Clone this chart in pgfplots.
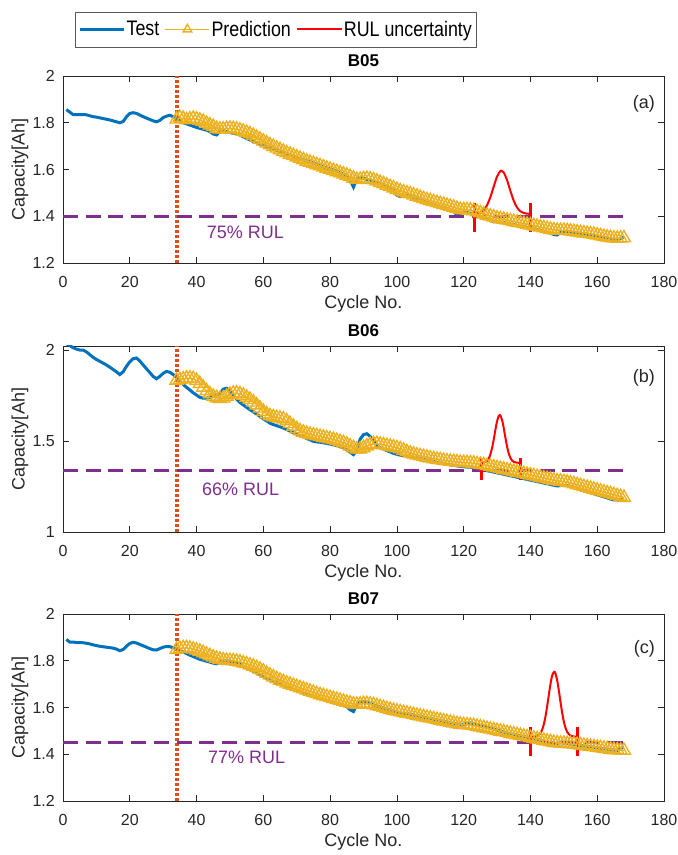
\documentclass[border=0pt]{standalone}
\usepackage{pgfplots}
\pgfplotsset{compat=1.18}
\usepackage{fontspec}
\setmainfont{Liberation Sans}
\newfontfamily\legendfont[FakeStretch=0.85]{Liberation Sans}

\definecolor{testblue}{rgb}{0,0.447,0.741}
\definecolor{predorange}{rgb}{0.929,0.694,0.125}
\definecolor{startline}{rgb}{0.85,0.325,0.098}
\definecolor{eolpurple}{rgb}{0.494,0.184,0.556}
\definecolor{uncred}{rgb}{1,0,0}
\definecolor{axisgray}{rgb}{0.15,0.15,0.15}
\definecolor{legendgray}{rgb}{0.35,0.35,0.35}

\tikzset{
  tag/.style={font=\fontsize{18}{21}\selectfont, text=axisgray},
  rultext/.style={font=\fontsize{18}{21}\selectfont, text=eolpurple},
}

\pgfplotsset{
  panel/.style={
    scale only axis, width=601pt,
    xmin=0, xmax=180, xtick={0,20,...,180},
    tick align=inside, major tick length=6pt,
    axis line style={draw=axisgray, line width=0.6pt},
    every tick/.style={draw=axisgray, line width=0.6pt},
    tick label style={font=\fontsize{16}{18}\selectfont, text=axisgray, inner sep=0pt},
    xticklabel style={anchor=base, yshift=-25pt},
    yticklabel style={anchor=east, xshift=-8pt},
    label style={font=\fontsize{18}{21}\selectfont, text=axisgray},
    xlabel={Cycle No.}, ylabel={Capacity[Ah]},
    xlabel style={at={([yshift=-41pt]axis description cs:0.5,0)}, anchor=center},
    ylabel style={at={([xshift=-43pt]axis description cs:0,0.5)}, anchor=center},
    title style={at={([yshift=3pt]axis description cs:0.5,1)}, anchor=base,
      font=\bfseries\fontsize{17}{20}\selectfont},
    /pgf/number format/assume math mode=true,
    clip=true,
  },
  testline/.style={testblue, line width=3pt, no markers},
  predline/.style={draw=predorange, line width=1.2pt, mark=triangle,
    mark size=7.5pt, mark options={solid, fill=none, draw=predorange, line width=1.4pt}},
  startmark/.style={startline, line width=4pt, dash pattern=on 3.3pt off 1.7pt},
  eolline/.style={eolpurple, line width=3pt, dash pattern=on 15pt off 7.7pt},
  rulpdf/.style={uncred, line width=2pt, smooth, no markers},
  rulbar/.style={uncred, line width=3pt, no markers},
}

\begin{document}
\begin{tikzpicture}
\useasboundingbox (0,0) rectangle (678pt,855pt);

% ---------------- B05 ----------------
\begin{axis}[panel, at={(63pt,779pt)}, anchor=north west, height=187pt,
  ymin=1.2, ymax=2, ytick={1.2,1.4,...,2.01},
  yticklabels={1.2,1.4,1.6,1.8,2},
  title={B05},
  legend style={at={([yshift=29pt]axis description cs:0.354,1)}, anchor=south,
    legend columns=3, draw=legendgray, fill=white,
    font=\legendfont\fontsize{21}{24}\selectfont, inner xsep=3pt, inner ysep=7.5pt,
    nodes={inner sep=1.5pt},
    /tikz/every even column/.append style={column sep=4pt}},
  legend cell align=left,
  legend image code/.code={\draw[mark repeat=2,mark phase=2,#1,mark size=5pt]
    plot coordinates {(0pt,0pt) (22pt,0pt) (44pt,0pt)};},
]
\addplot[testline] coordinates {
(1,1.856)(2,1.846)(3,1.835)(4,1.835)(5,1.835)(6,1.835)(7,1.834)(8,1.830)(9,1.826)(10,1.824)
(11,1.821)(12,1.818)(13,1.815)(14,1.812)(15,1.808)(16,1.804)(17,1.800)(18,1.805)(19,1.825)(20,1.840)
(21,1.843)(22,1.840)(23,1.833)(24,1.826)(25,1.820)(26,1.814)(27,1.808)(28,1.804)(29,1.810)(30,1.822)
(31,1.828)(32,1.832)(33,1.826)(34,1.818)(35,1.810)(36,1.800)(37,1.795)(38,1.790)(39,1.785)(40,1.780)
(41,1.776)(42,1.772)(43,1.768)(44,1.762)(45,1.752)(46,1.748)(47,1.762)(48,1.765)(49,1.762)(50,1.758)
(51,1.755)(52,1.752)(53,1.747)(54,1.740)(55,1.733)(56,1.726)(57,1.720)(58,1.714)(59,1.708)(60,1.702)
(61,1.697)(62,1.692)(63,1.687)(64,1.682)(65,1.677)(66,1.672)(67,1.667)(68,1.662)(69,1.657)(70,1.652)
(71,1.647)(72,1.642)(73,1.637)(74,1.632)(75,1.627)(76,1.622)(77,1.617)(78,1.612)(79,1.607)(80,1.602)
(81,1.597)(82,1.592)(83,1.587)(84,1.581)(85,1.575)(86,1.555)(87,1.525)(88,1.560)(89,1.565)(90,1.562)
(91,1.558)(92,1.554)(93,1.550)(94,1.545)(95,1.540)(96,1.533)(97,1.526)(98,1.519)(99,1.512)(100,1.490)
(101,1.484)(102,1.490)(103,1.488)(104,1.484)(105,1.479)(106,1.474)(107,1.469)(108,1.464)(109,1.459)(110,1.454)
(111,1.449)(112,1.445)(113,1.441)(114,1.437)(115,1.433)(116,1.428)(117,1.420)(118,1.405)(119,1.412)(120,1.418)
(121,1.416)(122,1.413)(123,1.409)(124,1.404)(125,1.399)(126,1.394)(127,1.389)(128,1.383)(129,1.377)(130,1.376)
(131,1.375)(132,1.373)(133,1.370)(134,1.367)(135,1.364)(136,1.361)(137,1.358)(138,1.355)(139,1.352)(140,1.349)
(141,1.346)(142,1.343)(143,1.340)(144,1.336)(145,1.332)(146,1.327)(147,1.322)(148,1.320)(149,1.330)(150,1.336)
(151,1.335)(152,1.333)(153,1.331)(154,1.329)(155,1.327)(156,1.325)(157,1.323)(158,1.321)(159,1.318)(160,1.315)
(161,1.312)(162,1.309)(163,1.306)(164,1.303)(165,1.300)(166,1.297)(167,1.305)(168,1.310)
};
\addlegendentry{Test}
\addplot[predline] coordinates {
(34,1.815)(35,1.822)(36,1.818)(37,1.812)(38,1.815)(39,1.818)(40,1.815)(41,1.810)(42,1.805)(43,1.797)
(44,1.790)(45,1.783)(46,1.775)(47,1.772)(48,1.772)(49,1.775)(50,1.776)(51,1.774)(52,1.772)(53,1.768)
(54,1.763)(55,1.758)(56,1.752)(57,1.745)(58,1.737)(59,1.729)(60,1.721)(61,1.713)(62,1.705)(63,1.698)
(64,1.691)(65,1.684)(66,1.677)(67,1.671)(68,1.665)(69,1.659)(70,1.653)(71,1.647)(72,1.641)(73,1.635)
(74,1.630)(75,1.625)(76,1.620)(77,1.615)(78,1.610)(79,1.605)(80,1.600)(81,1.595)(82,1.590)(83,1.585)
(84,1.580)(85,1.575)(86,1.569)(87,1.562)(88,1.556)(89,1.557)(90,1.560)(91,1.561)(92,1.559)(93,1.555)
(94,1.550)(95,1.544)(96,1.538)(97,1.532)(98,1.526)(99,1.520)(100,1.514)(101,1.508)(102,1.503)(103,1.499)
(104,1.495)(105,1.490)(106,1.485)(107,1.480)(108,1.475)(109,1.470)(110,1.466)(111,1.462)(112,1.458)(113,1.454)
(114,1.450)(115,1.446)(116,1.442)(117,1.438)(118,1.433)(119,1.429)(120,1.427)(121,1.427)(122,1.426)(123,1.423)
(124,1.419)(125,1.414)(126,1.409)(127,1.404)(128,1.400)(129,1.396)(130,1.392)(131,1.389)(132,1.386)(133,1.383)
(134,1.380)(135,1.377)(136,1.374)(137,1.371)(138,1.368)(139,1.365)(140,1.362)(141,1.359)(142,1.356)(143,1.353)
(144,1.350)(145,1.347)(146,1.344)(147,1.341)(148,1.339)(149,1.339)(150,1.339)(151,1.338)(152,1.336)(153,1.334)
(154,1.332)(155,1.330)(156,1.328)(157,1.326)(158,1.324)(159,1.322)(160,1.319)(161,1.316)(162,1.313)(163,1.310)
(164,1.308)(165,1.306)(166,1.305)(167,1.306)(168,1.307)
};
\addlegendentry{Prediction}
\addplot[startmark, forget plot] coordinates {(34,1.2)(34,2)};
\addplot[eolline, forget plot] coordinates {(0,1.4)(168,1.4)};
\addplot[rulpdf] coordinates {
(123,1.4105)(124,1.4118)(125,1.4159)(126,1.4262)(127,1.4472)(128,1.4819)(129,1.5269)(130,1.5698)
(131,1.5936)(131.3,1.595)(132,1.5873)(133,1.5540)(134,1.5083)(135,1.4664)(136,1.4372)(137,1.4210)
(138,1.4138)(139,1.4111)(140,1.4103)
};
\addlegendentry{RUL uncertainty}
\addplot[rulbar, forget plot] coordinates {(123.1,1.333)(123.1,1.457)};
\addplot[rulbar, forget plot] coordinates {(140.1,1.333)(140.1,1.457)};
\node[rultext] at (axis cs:54.6,1.33) {75\% RUL};
\node[tag, anchor=east] at (axis cs:178.3,1.88) {(a)};
\end{axis}

% ---------------- B06 ----------------
\begin{axis}[panel, at={(63pt,509pt)}, anchor=north west, height=186pt,
  ymin=1, ymax=2.022, ytick={1,1.5,2}, yticklabels={1,1.5,2},
  title={B06},
]
\addplot[testline] coordinates {
(1,2.035)(2,2.025)(3,2.013)(4,2.005)(5,2.000)(6,2.000)(7,1.990)(8,1.975)(9,1.960)(10,1.948)
(11,1.938)(12,1.928)(13,1.918)(14,1.906)(15,1.893)(16,1.880)(17,1.865)(18,1.880)(19,1.910)(20,1.935)
(21,1.952)(22,1.956)(23,1.940)(24,1.918)(25,1.897)(26,1.876)(27,1.855)(28,1.842)(29,1.855)(30,1.872)
(31,1.882)(32,1.878)(33,1.865)(34,1.850)(35,1.830)(36,1.810)(37,1.795)(38,1.780)(39,1.765)(40,1.752)
(41,1.740)(42,1.735)(43,1.735)(44,1.740)(45,1.745)(46,1.750)(47,1.760)(48,1.785)(49,1.790)(50,1.775)
(51,1.755)(52,1.730)(53,1.712)(54,1.698)(55,1.685)(56,1.672)(57,1.660)(58,1.648)(59,1.635)(60,1.622)
(61,1.610)(62,1.598)(63,1.590)(64,1.584)(65,1.578)(66,1.571)(67,1.563)(68,1.554)(69,1.545)(70,1.537)
(71,1.530)(72,1.522)(73,1.514)(74,1.506)(75,1.498)(76,1.495)(77,1.493)(78,1.490)(79,1.487)(80,1.483)
(81,1.479)(82,1.475)(83,1.470)(84,1.462)(85,1.452)(86,1.438)(87,1.425)(88,1.450)(89,1.510)(90,1.535)
(91,1.540)(92,1.525)(93,1.500)(94,1.478)(95,1.462)(96,1.455)(97,1.447)(98,1.440)(99,1.432)(100,1.427)
(101,1.422)(102,1.420)(103,1.418)(104,1.415)(105,1.411)(106,1.407)(107,1.403)(108,1.399)(109,1.395)(110,1.391)
(111,1.387)(112,1.383)(113,1.379)(114,1.375)(115,1.372)(116,1.369)(117,1.366)(118,1.363)(119,1.361)(120,1.359)
(121,1.357)(122,1.356)(123,1.353)(124,1.349)(125,1.345)(126,1.341)(127,1.337)(128,1.333)(129,1.329)(130,1.325)
(131,1.321)(132,1.317)(133,1.313)(134,1.309)(135,1.305)(136,1.301)(137,1.297)(138,1.293)(139,1.289)(140,1.285)
(141,1.281)(142,1.277)(143,1.273)(144,1.269)(145,1.265)(146,1.261)(147,1.257)(148,1.253)(149,1.255)(150,1.257)
(151,1.255)(152,1.251)(153,1.246)(154,1.241)(155,1.235)(156,1.229)(157,1.223)(158,1.217)(159,1.211)(160,1.205)
(161,1.199)(162,1.193)(163,1.187)(164,1.181)(165,1.176)(166,1.176)(167,1.179)(168,1.181)
};
\addplot[predline] coordinates {
(34,1.833)(35,1.835)(36,1.840)(37,1.845)(38,1.845)(39,1.842)(40,1.832)(41,1.815)(42,1.795)(43,1.775)
(44,1.758)(45,1.745)(46,1.737)(47,1.733)(48,1.735)(49,1.745)(50,1.755)(51,1.762)(52,1.763)(53,1.758)
(54,1.750)(55,1.740)(56,1.728)(57,1.713)(58,1.697)(59,1.680)(60,1.662)(61,1.648)(62,1.638)(63,1.632)
(64,1.628)(65,1.625)(66,1.620)(67,1.610)(68,1.595)(69,1.580)(70,1.566)(71,1.555)(72,1.547)(73,1.541)
(74,1.536)(75,1.532)(76,1.528)(77,1.524)(78,1.520)(79,1.516)(80,1.512)(81,1.507)(82,1.502)(83,1.496)
(84,1.490)(85,1.482)(86,1.472)(87,1.462)(88,1.455)(89,1.455)(90,1.462)(91,1.472)(92,1.480)(93,1.484)
(94,1.485)(95,1.482)(96,1.478)(97,1.474)(98,1.470)(99,1.466)(100,1.462)(101,1.456)(102,1.448)(103,1.440)
(104,1.433)(105,1.427)(106,1.422)(107,1.418)(108,1.414)(109,1.410)(110,1.406)(111,1.402)(112,1.399)(113,1.396)
(114,1.393)(115,1.390)(116,1.388)(117,1.386)(118,1.384)(119,1.382)(120,1.381)(121,1.380)(122,1.379)(123,1.377)
(124,1.374)(125,1.371)(126,1.368)(127,1.364)(128,1.360)(129,1.356)(130,1.352)(131,1.348)(132,1.344)(133,1.340)
(134,1.336)(135,1.332)(136,1.328)(137,1.324)(138,1.320)(139,1.316)(140,1.312)(141,1.308)(142,1.304)(143,1.300)
(144,1.296)(145,1.292)(146,1.288)(147,1.284)(148,1.280)(149,1.278)(150,1.276)(151,1.273)(152,1.269)(153,1.264)
(154,1.259)(155,1.254)(156,1.249)(157,1.244)(158,1.239)(159,1.234)(160,1.229)(161,1.224)(162,1.219)(163,1.214)
(164,1.209)(165,1.204)(166,1.199)(167,1.194)(168,1.189)
};
\addplot[startmark] coordinates {(34,1)(34,2.022)};
\addplot[eolline] coordinates {(0,1.34)(168,1.34)};
\addplot[rulpdf] coordinates {
(125.4,1.3804)(126,1.3816)(127,1.3906)(127.5,1.4034)(128,1.4261)(128.5,1.4612)(129,1.5080)
(129.5,1.5607)(130,1.6081)(130.5,1.6378)(130.8,1.6430)(131,1.6407)(131.5,1.6159)(132,1.5710)
(132.5,1.5184)(133,1.4697)(133.5,1.4320)(134,1.4070)(134.5,1.3925)(135,1.3852)(136,1.3807)(137.1,1.3800)
};
\addplot[rulbar] coordinates {(125.4,1.286)(125.4,1.407)};
\addplot[rulbar] coordinates {(137.1,1.286)(137.1,1.407)};
\node[rultext] at (axis cs:53.2,1.236) {66\% RUL};
\node[tag, anchor=east] at (axis cs:178.3,1.849) {(b)};
\end{axis}

% ---------------- B07 ----------------
\begin{axis}[panel, at={(63pt,241pt)}, anchor=north west, height=187pt,
  ymin=1.2, ymax=2, ytick={1.2,1.4,...,2.01},
  yticklabels={1.2,1.4,1.6,1.8,2},
  title={B07},
]
\addplot[testline] coordinates {
(1,1.891)(2,1.880)(3,1.880)(4,1.878)(5,1.878)(6,1.877)(7,1.875)(8,1.872)(9,1.868)(10,1.865)
(11,1.862)(12,1.860)(13,1.858)(14,1.856)(15,1.854)(16,1.850)(17,1.843)(18,1.848)(19,1.862)(20,1.874)
(21,1.879)(22,1.876)(23,1.870)(24,1.864)(25,1.858)(26,1.852)(27,1.847)(28,1.846)(29,1.852)(30,1.858)
(31,1.861)(32,1.860)(33,1.856)(34,1.852)(35,1.845)(36,1.838)(37,1.831)(38,1.824)(39,1.818)(40,1.812)
(41,1.806)(42,1.802)(43,1.798)(44,1.794)(45,1.790)(46,1.787)(47,1.795)(48,1.800)(49,1.800)(50,1.798)
(51,1.795)(52,1.790)(53,1.784)(54,1.777)(55,1.770)(56,1.762)(57,1.755)(58,1.747)(59,1.740)(60,1.732)
(61,1.725)(62,1.718)(63,1.712)(64,1.706)(65,1.700)(66,1.694)(67,1.688)(68,1.682)(69,1.677)(70,1.672)
(71,1.667)(72,1.662)(73,1.657)(74,1.652)(75,1.647)(76,1.643)(77,1.639)(78,1.635)(79,1.631)(80,1.627)
(81,1.623)(82,1.619)(83,1.615)(84,1.610)(85,1.603)(86,1.590)(87,1.583)(88,1.610)(89,1.625)(90,1.626)
(91,1.622)(92,1.617)(93,1.612)(94,1.607)(95,1.602)(96,1.598)(97,1.594)(98,1.590)(99,1.586)(100,1.578)
(101,1.572)(102,1.575)(103,1.574)(104,1.571)(105,1.568)(106,1.565)(107,1.562)(108,1.559)(109,1.556)(110,1.553)
(111,1.550)(112,1.547)(113,1.544)(114,1.541)(115,1.538)(116,1.535)(117,1.532)(118,1.530)(119,1.528)(120,1.527)
(121,1.532)(122,1.534)(123,1.531)(124,1.527)(125,1.523)(126,1.519)(127,1.515)(128,1.511)(129,1.507)(130,1.503)
(131,1.499)(132,1.495)(133,1.491)(134,1.488)(135,1.485)(136,1.482)(137,1.479)(138,1.476)(139,1.473)(140,1.470)
(141,1.467)(142,1.464)(143,1.461)(144,1.455)(145,1.449)(146,1.444)(147,1.440)(148,1.446)(149,1.449)(150,1.448)
(151,1.446)(152,1.444)(153,1.442)(154,1.440)(155,1.438)(156,1.436)(157,1.434)(158,1.432)(159,1.430)(160,1.428)
(161,1.426)(162,1.424)(163,1.422)(164,1.420)(165,1.418)(166,1.416)(167,1.425)(168,1.430)
};
\addplot[predline] coordinates {
(34,1.848)(35,1.852)(36,1.855)(37,1.855)(38,1.853)(39,1.849)(40,1.845)(41,1.840)(42,1.834)(43,1.828)
(44,1.821)(45,1.815)(46,1.810)(47,1.806)(48,1.803)(49,1.801)(50,1.800)(51,1.799)(52,1.797)(53,1.794)
(54,1.790)(55,1.786)(56,1.781)(57,1.776)(58,1.770)(59,1.763)(60,1.755)(61,1.746)(62,1.738)(63,1.730)
(64,1.723)(65,1.716)(66,1.710)(67,1.704)(68,1.699)(69,1.694)(70,1.689)(71,1.684)(72,1.679)(73,1.674)
(74,1.669)(75,1.664)(76,1.659)(77,1.654)(78,1.650)(79,1.646)(80,1.642)(81,1.638)(82,1.634)(83,1.630)
(84,1.626)(85,1.622)(86,1.618)(87,1.614)(88,1.613)(89,1.614)(90,1.616)(91,1.616)(92,1.614)(93,1.611)
(94,1.607)(95,1.603)(96,1.599)(97,1.595)(98,1.591)(99,1.587)(100,1.584)(101,1.581)(102,1.578)(103,1.575)
(104,1.572)(105,1.569)(106,1.566)(107,1.563)(108,1.560)(109,1.557)(110,1.554)(111,1.551)(112,1.548)(113,1.545)
(114,1.542)(115,1.539)(116,1.536)(117,1.533)(118,1.530)(119,1.528)(120,1.526)(121,1.525)(122,1.524)(123,1.522)
(124,1.519)(125,1.516)(126,1.513)(127,1.510)(128,1.507)(129,1.504)(130,1.501)(131,1.498)(132,1.495)(133,1.492)
(134,1.489)(135,1.486)(136,1.483)(137,1.480)(138,1.477)(139,1.474)(140,1.471)(141,1.468)(142,1.465)(143,1.462)
(144,1.459)(145,1.456)(146,1.453)(147,1.450)(148,1.448)(149,1.447)(150,1.446)(151,1.445)(152,1.444)(153,1.443)
(154,1.441)(155,1.439)(156,1.437)(157,1.435)(158,1.433)(159,1.431)(160,1.429)(161,1.427)(162,1.425)(163,1.423)
(164,1.421)(165,1.419)(166,1.418)(167,1.417)(168,1.416)
};
\addplot[startmark] coordinates {(34,1.2)(34,2)};
\addplot[eolline] coordinates {(0,1.45)(168,1.45)};
\addplot[rulpdf] coordinates {
(140.1,1.4750)(141,1.4754)(142,1.4781)(143,1.4902)(143.5,1.5045)(144,1.5277)(144.5,1.5613)
(145,1.6046)(145.5,1.6535)(146,1.7005)(146.5,1.7362)(147.1,1.7530)(147.5,1.7454)(148,1.7166)
(148.5,1.6730)(149,1.6239)(149.5,1.5776)(150,1.5399)(150.5,1.5126)(151,1.4950)(152,1.4794)
(153,1.4757)(154.1,1.4750)
};
\addplot[rulbar] coordinates {(140.1,1.392)(140.1,1.517)};
\addplot[rulbar] coordinates {(154.1,1.392)(154.1,1.517)};
\node[rultext] at (axis cs:55,1.386) {77\% RUL};
\node[tag, anchor=east] at (axis cs:178.3,1.85) {(c)};
\end{axis}
\end{tikzpicture}
\end{document}
